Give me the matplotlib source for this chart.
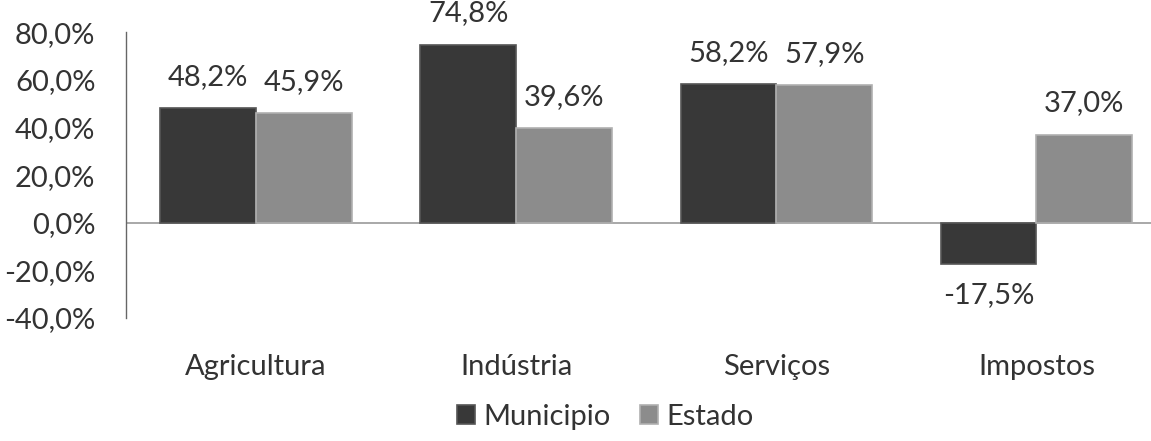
import numpy as np
import matplotlib.pyplot as plt
from matplotlib.ticker import FuncFormatter

categorias = ['Agricultura', 'Indústria', 'Serviços', 'Impostos']
municipio = [48.2, 74.8, 58.2, -17.5]
estado = [45.9, 39.6, 57.9, 37.0]
series = ['Municipio', 'Estado']
yticks = [-40, -20, 0, 20, 40, 60, 80]

plt.rcParams['font.family'] = ['Lato', 'DejaVu Sans']
fs = 21

fig = plt.figure(figsize=(11.51, 4.41), dpi=100)
ax = fig.add_axes([0.1095, 0.279, 0.904, 0.648])

x = np.arange(len(categorias))
w = 0.368
cor_mun = '#383838'
cor_est = '#8c8c8c'

b1 = ax.bar(x - w / 2, municipio, w, color=cor_mun, edgecolor='#555555', linewidth=1.2,
            label=series[0], zorder=3)
b2 = ax.bar(x + w / 2, estado, w, color=cor_est, edgecolor='#b0b0b0', linewidth=1.2,
            label=series[1], zorder=3)

def fmt(v):
    return f'{v:.1f}%'.replace('.', ',')

# rotulos de dados acima/abaixo das barras
for barras, vals in [(b1, municipio), (b2, estado)]:
    for b, v in zip(barras, vals):
        cx = b.get_x() + b.get_width() / 2
        if v >= 0:
            ax.annotate(fmt(v), (cx, v), xytext=(0, 13), textcoords='offset points',
                        ha='center', va='bottom', fontsize=fs, color='#333333',
                        annotation_clip=False)
        else:
            ax.annotate(fmt(v), (cx, v), xytext=(0, -13), textcoords='offset points',
                        ha='center', va='top', fontsize=fs, color='#333333',
                        annotation_clip=False)

ax.axhline(0, color='#999999', linewidth=1.2, zorder=2)
ax.set_xlim(-0.5, 3.5)
ax.set_ylim(-40, 80)
ax.set_yticks(yticks)
ax.yaxis.set_major_formatter(FuncFormatter(lambda v, p: fmt(v)))
ax.set_xticks(x)
ax.set_xticklabels(categorias)
ax.tick_params(axis='y', length=0, labelsize=fs, labelcolor='#333333', pad=22)
ax.tick_params(axis='x', length=0, labelsize=fs, labelcolor='#333333', pad=26)

for s in ['top', 'right', 'bottom']:
    ax.spines[s].set_visible(False)
ax.spines['left'].set_color('#666666')
ax.spines['left'].set_linewidth(1.0)

fig.legend(loc='center', bbox_to_anchor=(0.526, 0.055), ncol=2, frameon=False,
           fontsize=fs, handlelength=0.6, handleheight=0.6, handletextpad=0.3,
           columnspacing=1.0, labelcolor='#333333')

fig.savefig('out.png', dpi=100)
